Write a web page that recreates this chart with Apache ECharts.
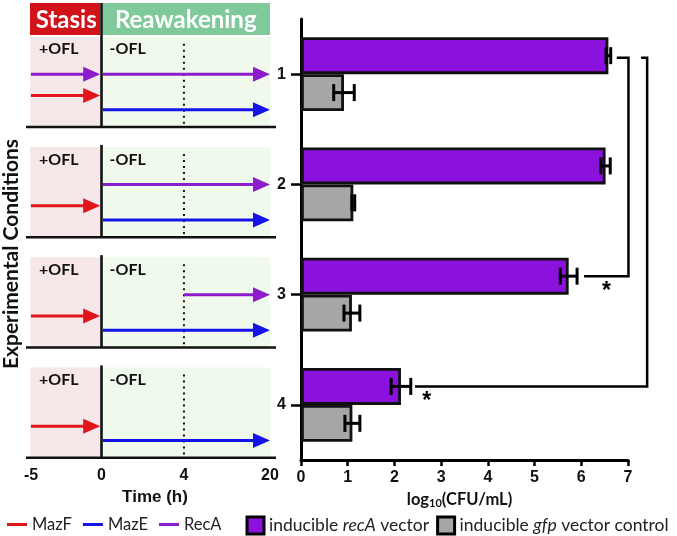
<!DOCTYPE html>
<html><head><meta charset="utf-8">
<script src="https://cdn.jsdelivr.net/npm/echarts@6/dist/echarts.min.js"></script>
<style>html,body{margin:0;padding:0;background:#fff}#c{width:677px;height:536px}</style>
</head><body><div id="c"></div>
<script>
// ---------------- data ----------------
const conditions = ['1', '2', '3', '4'];
const recAMean = [6.58, 6.52, 5.73, 2.14];
const recAErr = [0.05, 0.10, 0.18, 0.21];
const gfpMean = [0.92, 1.12, 1.09, 1.10];
const gfpErr = [0.22, 0.03, 0.17, 0.16];
const cfuTicks = [0, 1, 2, 3, 4, 5, 6, 7];
const timeTicks = [-5, 0, 4, 20];
const phaseNames = ['Stasis', 'Reawakening'];
const drugLabels = ['+OFL', '-OFL'];
// [condition, start time (h), end time (h)]
const mazFSegments = [[1, -5, 0], [2, -5, 0], [3, -5, 0], [4, -5, 0]];
const mazESegments = [[1, 0, 20], [2, 0, 20], [3, 0, 20], [4, 0, 20]];
const recASegments = [[1, -5, 0], [1, 0, 20], [2, 0, 20], [3, 4, 20]];
// significance comparisons (recA bars): condition 1 vs 3, condition 1 vs 4
const sigFrom = [1, 1];
const sigTo = [3, 4];
const sigMark = ['*', '*'];
const seriesNames = ['inducible recA vector', 'inducible gfp vector control'];

// ---------------- layout / style ----------------
const timeFrac = [0, 0.295, 0.64, 1];        // broken time axis layout
const rowOff = { MazF: 0.194, MazE: 0.322, RecA: 0 };
const panelTop = -0.34, panelBase = 0.48;
const brStart = [6.76, 7.28], brVert = [7.01, 7.41], brEnd = [6.06, 2.44], starX = [6.54, 2.69];
const C = {
  purple: '#8b12dc', gray: '#a6a6a6', red: '#e0141c', blue: '#1414e6', recA: '#8c1ccc',
  stasis: '#d2121b', reawak: '#80c99b', pink: '#f6e8e8', green: '#f0faec', ink: '#111'
};
const ARIAL = '"Liberation Sans", Arial, sans-serif';
const LATO = 'Lato, "Open Sans", sans-serif';

function tpos(t) {
  for (let i = 0; i < timeTicks.length - 1; i++) {
    if (t <= timeTicks[i + 1]) {
      const f = (t - timeTicks[i]) / (timeTicks[i + 1] - timeTicks[i]);
      return timeFrac[i] + f * (timeFrac[i + 1] - timeFrac[i]);
    }
  }
  return 1;
}

function panelRender(params, api) {
  const r = api.value(1);
  const X = t => api.coord([tpos(t), r])[0];
  const Y = o => api.coord([0, r + o])[1];
  const top = Y(panelTop), base = Y(panelBase);
  const x5 = X(-5), x0 = X(0), x4 = X(4), x20 = X(20);
  const ch = [
    { type: 'rect', shape: { x: x5 - 1, y: top, width: x0 - 1.5 - (x5 - 1), height: base - top }, style: { fill: C.pink } },
    { type: 'rect', shape: { x: x0 + 1.5, y: top, width: x20 - x0 - 1.5, height: base - top }, style: { fill: C.green } },
    { type: 'text', style: { text: drugLabels[0], x: x5 + 8, y: Y(-0.225), verticalAlign: 'middle', align: 'left', fontFamily: LATO, fontWeight: 'bold', fontSize: 16, fill: C.ink } },
    { type: 'text', style: { text: drugLabels[1], x: x0 + 8, y: Y(-0.225), verticalAlign: 'middle', align: 'left', fontFamily: LATO, fontWeight: 'bold', fontSize: 16, fill: C.ink } },
    { type: 'line', shape: { x1: x4, y1: top + 7, x2: x4, y2: base }, style: { stroke: C.ink, lineWidth: 2, lineDash: [2, 4] } },
    { type: 'line', shape: { x1: x5 - 5, y1: base, x2: x20 + 6, y2: base }, style: { stroke: C.ink, lineWidth: 2.6 } }
  ];
  let vTop = top - 2;
  if (r === 1) {
    const hTop = Y(-0.645), hBot = Y(-0.355);
    vTop = hTop;
    ch.push(
      { type: 'rect', shape: { x: x5 - 1, y: hTop, width: x0 - 1.5 - (x5 - 1), height: hBot - hTop }, style: { fill: C.stasis } },
      { type: 'rect', shape: { x: x0 + 1.5, y: hTop, width: x20 - x0 - 1.5, height: hBot - hTop }, style: { fill: C.reawak } },
      { type: 'text', style: { text: phaseNames[0], x: (x5 + x0) / 2, y: (hTop + hBot) / 2 + 1, align: 'center', verticalAlign: 'middle', fontFamily: LATO, fontWeight: 'bold', fontSize: 24, fill: '#fff' } },
      { type: 'text', style: { text: phaseNames[1], x: (x0 + x20) / 2, y: (hTop + hBot) / 2 + 1, align: 'center', verticalAlign: 'middle', fontFamily: LATO, fontWeight: 'bold', fontSize: 24, fill: '#fff' } }
    );
  }
  ch.push({ type: 'line', shape: { x1: x0, y1: vTop, x2: x0, y2: base }, style: { stroke: C.ink, lineWidth: 2.6 } });
  return { type: 'group', children: ch };
}

function arrowRender(offset) {
  return function (params, api) {
    const r = api.value(0), t0 = api.value(1), t1 = api.value(2);
    const p0 = api.coord([tpos(t0), r + offset]);
    const p1 = api.coord([tpos(t1), r + offset]);
    const color = api.visual('color');
    const head = 17, hw = 7.5;
    const sx = p0[0] + (t0 === 0 ? 1.5 : 0);
    const tip = p1[0] - (t1 === 0 ? 1.3 : 0);
    return {
      type: 'group', children: [
        { type: 'line', shape: { x1: sx, y1: p0[1], x2: tip - head + 2, y2: p1[1] }, style: { stroke: color, lineWidth: 3 } },
        { type: 'polygon', shape: { points: [[tip, p1[1]], [tip - head, p1[1] - hw], [tip - head, p1[1] + hw]] }, style: { fill: color } }
      ]
    };
  };
}

function errRender(params, api) {
  const v = api.value(0), c = api.value(1), e = api.value(2), side = api.value(3);
  const band = api.size([0, 1])[1];
  const y = api.coord([v, c])[1] + side * band * 0.1675;
  const xl = api.coord([v - e, c])[0], xr = api.coord([v + e, c])[0];
  const cap = 8.5, st = { stroke: '#000', lineWidth: 3 };
  return {
    type: 'group', children: [
      { type: 'line', shape: { x1: xl, y1: y, x2: xr, y2: y }, style: st },
      { type: 'line', shape: { x1: xl, y1: y - cap, x2: xl, y2: y + cap }, style: st },
      { type: 'line', shape: { x1: xr, y1: y - cap, x2: xr, y2: y + cap }, style: st }
    ]
  };
}

function bracketRender(params, api) {
  const i = params.dataIndex;
  const a = api.value(1), b = api.value(2);
  const band = api.size([0, 1])[1];
  const ya = api.coord([0, a])[1] - band * 0.1675 + 2;
  const yb = api.coord([0, b])[1] - band * 0.1675;
  const xs = api.coord([brStart[i], a])[0], xv = api.coord([brVert[i], a])[0], xe = api.coord([brEnd[i], a])[0];
  const xst = api.coord([starX[i], a])[0];
  return {
    type: 'group', children: [
      { type: 'polyline', shape: { points: [[xs, ya], [xv, ya], [xv, yb], [xe, yb]] }, style: { stroke: '#000', lineWidth: 2.5, fill: null } },
      { type: 'text', style: { text: sigMark[i], x: xst, y: yb + 15, align: 'center', verticalAlign: 'middle', fontFamily: ARIAL, fontWeight: 'bold', fontSize: 23, fill: '#000' } }
    ]
  };
}

const richLegend = {
  n: { fontFamily: LATO, fontSize: 17.5, color: '#222' },
  i: { fontFamily: LATO, fontSize: 17.5, color: '#222', fontStyle: 'italic' }
};

const chart = echarts.init(document.getElementById('c'), null, { renderer: 'canvas' });
chart.setOption({
  animation: false,
  backgroundColor: '#fff',
  grid: [
    { left: 31, width: 239, top: 19, height: 441 },
    { left: 301, right: 49, top: 19, height: 441 }
  ],
  xAxis: [
    {
      gridIndex: 0, type: 'value', min: 0, max: 1,
      axisLine: { show: false }, axisTick: { show: false }, splitLine: { show: false },
      axisLabel: {
        customValues: timeTicks.map(tpos), margin: 8,
        fontFamily: ARIAL, fontWeight: 'bold', fontSize: 16, color: C.ink,
        formatter: v => { const k = timeTicks.findIndex(t => Math.abs(tpos(t) - v) < 1e-6); return k >= 0 ? String(timeTicks[k]) : ''; }
      },
      name: 'Time (h)', nameLocation: 'middle', nameGap: 24,
      nameTextStyle: { fontFamily: ARIAL, fontWeight: 'bold', fontSize: 17, color: C.ink, padding: [0, 0, 0, 9] }
    },
    {
      gridIndex: 1, type: 'value', min: 0, max: 7, interval: 1,
      axisLine: { show: true, lineStyle: { color: '#000', width: 3 } },
      axisTick: { show: true, length: 6, lineStyle: { color: '#000', width: 2.5 } },
      splitLine: { show: false },
      axisLabel: { margin: 10, fontFamily: ARIAL, fontWeight: 'bold', fontSize: 16, color: C.ink, formatter: v => String(cfuTicks[v]) },
      name: '{a|log}{s|10}{a|(CFU/mL)}', nameLocation: 'middle', nameGap: 21,
      nameTextStyle: {
        padding: [0, 10, 0, 0],
        rich: {
          a: { fontFamily: LATO, fontWeight: 'bold', fontSize: 16.5, color: C.ink, lineHeight: 19 },
          s: { fontFamily: LATO, fontWeight: 'bold', fontSize: 11, color: C.ink, lineHeight: 11, verticalAlign: 'bottom' }
        }
      }
    }
  ],
  yAxis: [
    { gridIndex: 0, type: 'value', min: 0.5, max: 4.5, inverse: true, show: false },
    {
      gridIndex: 1, type: 'category', data: conditions, inverse: true,
      axisLine: { show: true, lineStyle: { color: '#000', width: 3 } },
      axisTick: { show: true, alignWithLabel: true, length: 10, lineStyle: { color: '#000', width: 2.5 } },
      axisLabel: { margin: 15, fontFamily: ARIAL, fontWeight: 'bold', fontSize: 16, color: C.ink }
    }
  ],
  legend: [
    {
      data: [{ name: 'MazF', icon: 'rect' }, { name: 'MazE', icon: 'rect' }, { name: 'RecA', icon: 'rect' }],
      left: 2, top: 511, width: 240, itemWidth: 20, itemHeight: 3, itemGap: 11, selectedMode: false,
      textStyle: { fontFamily: LATO, fontSize: 16.5, color: '#222' }
    },
    {
      data: seriesNames, left: 240.5, top: 510.5, width: 480, itemWidth: 17, itemHeight: 17, itemGap: 7, icon: 'rect', selectedMode: false,
      itemStyle: { borderColor: '#000', borderWidth: 3 },
      formatter: name => name.split(/(recA|gfp)/).filter(s => s).map(s => (s === 'recA' || s === 'gfp') ? '{i|' + s + '}' : '{n|' + s + '}').join(''),
      textStyle: { rich: richLegend }
    }
  ],
  graphic: [
    { type: 'text', x: 11, y: 254, rotation: Math.PI / 2,
      style: { text: 'Experimental Conditions', align: 'center', verticalAlign: 'middle', fontFamily: LATO, fontWeight: 'bold', fontSize: 21, fill: C.ink } }
  ],
  series: [
    { type: 'custom', name: 'timeline', xAxisIndex: 0, yAxisIndex: 0, renderItem: panelRender, encode: { x: 0, y: 1 },
      data: conditions.map((c, i) => [0, i + 1]), silent: true, z: 1 },
    { type: 'custom', name: 'RecA', xAxisIndex: 0, yAxisIndex: 0, renderItem: arrowRender(rowOff.RecA), encode: { x: 1, y: 0 },
      itemStyle: { color: C.recA }, data: recASegments, z: 3 },
    { type: 'custom', name: 'MazF', xAxisIndex: 0, yAxisIndex: 0, renderItem: arrowRender(rowOff.MazF), encode: { x: 1, y: 0 },
      itemStyle: { color: C.red }, data: mazFSegments, z: 3 },
    { type: 'custom', name: 'MazE', xAxisIndex: 0, yAxisIndex: 0, renderItem: arrowRender(rowOff.MazE), encode: { x: 1, y: 0 },
      itemStyle: { color: C.blue }, data: mazESegments, z: 3 },
    { type: 'bar', name: seriesNames[0], xAxisIndex: 1, yAxisIndex: 1, data: recAMean, barGap: '0%', barCategoryGap: '33%',
      itemStyle: { color: C.purple, borderColor: '#111', borderWidth: 2.8 } },
    { type: 'bar', name: seriesNames[1], xAxisIndex: 1, yAxisIndex: 1, data: gfpMean, barGap: '0%', barCategoryGap: '33%',
      itemStyle: { color: C.gray, borderColor: '#111', borderWidth: 2.8 } },
    { type: 'custom', name: 'errors', xAxisIndex: 1, yAxisIndex: 1, renderItem: errRender, encode: { x: 0, y: 1 }, z: 5, silent: true,
      data: recAMean.map((v, i) => [v, i, recAErr[i], -1]).concat(gfpMean.map((v, i) => [v, i, gfpErr[i], 1])) },
    { type: 'custom', name: 'significance', xAxisIndex: 1, yAxisIndex: 1, renderItem: bracketRender, encode: { x: 0, y: 1 }, z: 5, silent: true,
      data: sigFrom.map((f, i) => [0, f - 1, sigTo[i] - 1]) }
  ]
});
</script></body></html>
